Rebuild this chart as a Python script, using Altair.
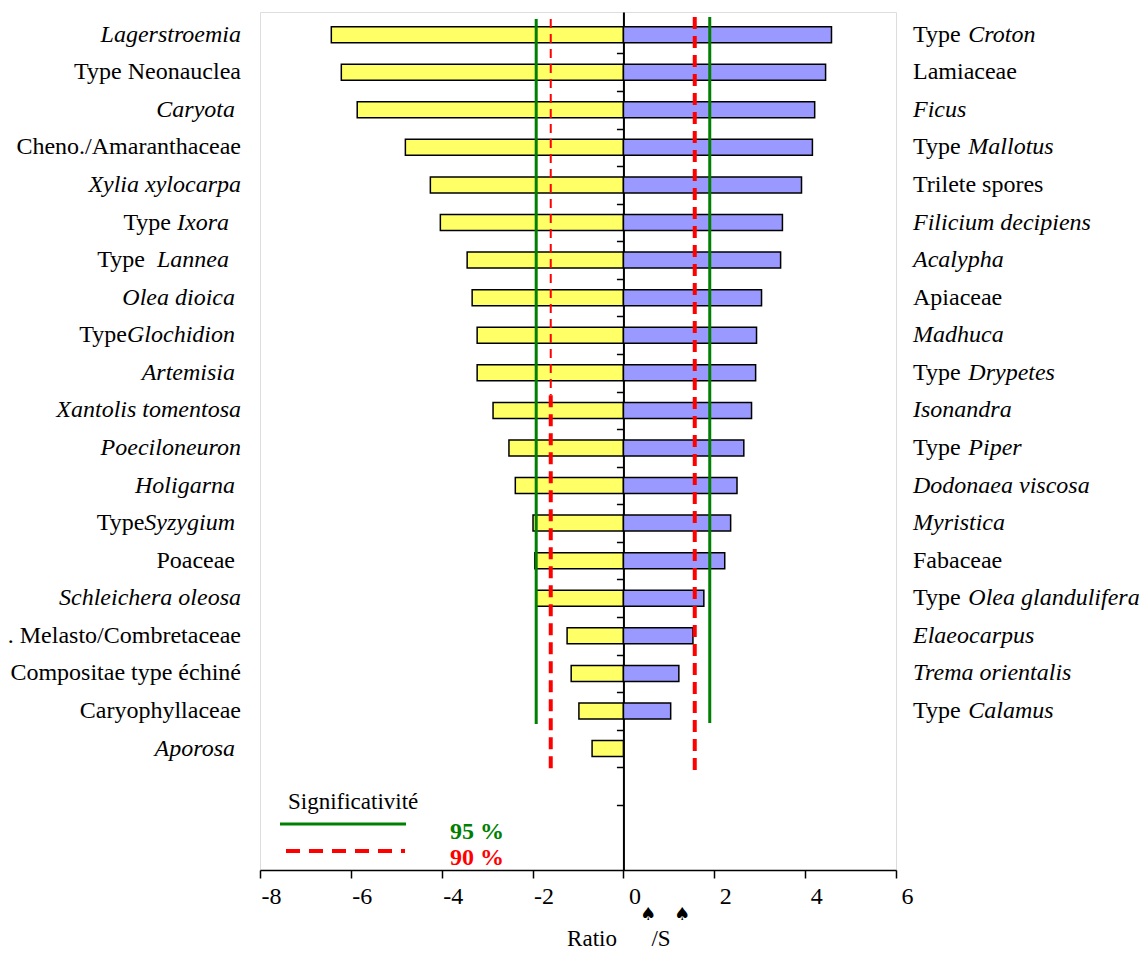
import altair as alt
import pandas as pd

# ---------------- data ----------------
left_roman = ["", "Type Neonauclea", "", "Cheno./Amaranthaceae", "", "Type", "Type", "",
              "Type", "", "", "", "", "Type", "Poaceae", "", ". Melasto/Combretaceae",
              "Compositae type échiné", "Caryophyllaceae", ""]
left_italic = ["Lagerstroemia", "", "Caryota", "", "Xylia xylocarpa", "Ixora", "Lannea",
               "Olea dioica", "Glochidion", "Artemisia", "Xantolis tomentosa", "Poeciloneuron",
               "Holigarna", "Syzygium", "", "Schleichera oleosa", "", "", "", "Aporosa"]
left_gap = [0, 0, 0, 0, 0, 1, 2, 0, 0, 0, 0, 0, 0, 0, 0, 0, 0, 0, 0, 0]
left_trail = [0, 0, 1, 0, 0, 2, 2, 1, 1, 1, 0, 0, 1, 1, 1, 0, 0, 0, 0, 1]
left_values = [-6.43, -6.21, -5.86, -4.80, -4.25, -4.03, -3.44, -3.33, -3.22, -3.22,
               -2.87, -2.52, -2.38, -1.99, -1.95, -1.93, -1.24, -1.15, -0.98, -0.69]

right_roman = ["Type", "Lamiaceae", "", "Type", "Trilete spores", "", "", "Apiaceae", "",
               "Type", "", "Type", "", "", "Fabaceae", "Type", "", "", "Type"]
right_italic = ["Croton", "", "Ficus", "Mallotus", "", "Filicium decipiens", "Acalypha", "",
                "Madhuca", "Drypetes", "Isonandra", "Piper", "Dodonaea viscosa", "Myristica",
                "", "Olea glandulifera", "Elaeocarpus", "Trema orientalis", "Calamus"]
right_gap = [1, 0, 0, 1, 0, 0, 0, 0, 0, 1, 0, 1, 0, 0, 0, 1, 0, 0, 1]
right_values = [4.58, 4.45, 4.21, 4.16, 3.92, 3.50, 3.46, 3.04, 2.93, 2.91,
                2.82, 2.65, 2.50, 2.36, 2.23, 1.77, 1.53, 1.22, 1.04]

sig95_x = [-1.92, 1.90]
sig95_end = [18.35, 18.32]
sig90_x = [-1.60, 1.57]
sig90_end = [19.6, 19.6]
sig90_break = 9.6          # left 90 % line: thin dashes above, thick below

x_ticks = [-8, -6, -4, -2, 0, 2, 4, 6]

# ---------------- styling helpers ----------------
FONT = "Liberation Serif"
FS = 24
Y_TOP, Y_BOT = -0.47, 22.1
WIDTH, HEIGHT = 636, 858

# Times (Liberation Serif) advance widths, 1/1000 em
ROMAN_W = {"T": 611, "y": 500, "p": 500, "e": 444, " ": 250}
ITALIC_W = {"I": 333, "x": 444, "o": 500, "r": 389, "a": 500, "L": 556, "n": 500,
            "e": 444, "G": 722, "l": 278, "c": 444, "h": 500, "i": 278, "d": 500,
            "S": 500, "y": 444, "z": 389, "g": 500, "u": 500, "m": 722}


def width(s, table):
    return sum(table.get(c, 500) for c in s) * FS / 1000.0


SPACE = width(" ", ROMAN_W)
LEFT_EDGE = -19     # px from plot left: right edge of left labels
RIGHT_EDGE = 653    # px from plot left: start of right labels

left_df = pd.DataFrame({
    "idx": list(range(len(left_values))),
    "value": left_values,
    "roman": left_roman,
    "italic": left_italic,
})
ends = [LEFT_EDGE - t * SPACE for t in left_trail]
left_df["italic_x"] = ends
left_df["roman_x"] = [
    e - (width(it, ITALIC_W) + g * SPACE if it else 0)
    for e, it, g in zip(ends, left_italic, left_gap)
]

right_df = pd.DataFrame({
    "idx": list(range(len(right_values))),
    "value": right_values,
    "roman": right_roman,
    "italic": right_italic,
})
right_df["roman_x"] = RIGHT_EDGE
right_df["italic_x"] = [
    RIGHT_EDGE + (width(r, ROMAN_W) + g * SPACE if r else 0)
    for r, g in zip(right_roman, right_gap)
]

yscale = alt.Scale(domain=[Y_TOP, Y_BOT], reverse=True, nice=False, zero=False)
xscale = alt.Scale(domain=[-8, 6], nice=False, zero=False)
zero_px = WIDTH * 8 / 14.0

# bars
left_bars = alt.Chart(left_df).mark_bar(
    size=16, fill="#FFFF66", stroke="black", strokeWidth=1.5
).encode(
    x=alt.X("value:Q", scale=xscale,
            axis=alt.Axis(values=x_ticks, labelExpr="'' + datum.value", tickSize=8,
                          labelPadding=6, labelOffset=11, labelFlush=False,
                          labelFont=FONT, labelFontSize=FS,
                          labelColor="black", domainColor="black", domainWidth=1.5,
                          tickColor="black", tickWidth=1.5, grid=False, title=None)),
    x2=alt.datum(0),
    y=alt.Y("idx:Q", scale=yscale,
            axis=alt.Axis(orient="left", offset=-zero_px,
                          values=[k + 0.5 for k in range(0, 21)],
                          labels=False, ticks=True, tickSize=7, tickColor="black",
                          tickWidth=1.5, domainColor="black", domainWidth=2,
                          grid=False, title=None)),
)

right_bars = alt.Chart(right_df).mark_bar(
    size=16, fill="#9999FF", stroke="black", strokeWidth=1.5
).encode(
    x=alt.X("value:Q", scale=xscale),
    x2=alt.datum(0),
    y=alt.Y("idx:Q", scale=yscale),
)

# significance lines
g_df = pd.DataFrame({"x": sig95_x, "y1": [Y_TOP + 0.05, Y_TOP], "y2": sig95_end})
green = alt.Chart(g_df).mark_rule(color="#008000", strokeWidth=3).encode(
    x=alt.X("x:Q", scale=xscale), y=alt.Y("y1:Q", scale=yscale), y2="y2:Q")

r_thin_df = pd.DataFrame({"x": [sig90_x[0]], "y1": [Y_TOP + 0.05], "y2": [sig90_break]})
r_thick_df = pd.DataFrame({"x": sig90_x, "y1": [sig90_break, Y_TOP], "y2": sig90_end})
red_thin = alt.Chart(r_thin_df).mark_rule(color="#FF0000", strokeWidth=2,
                                          strokeDash=[9, 6]).encode(
    x=alt.X("x:Q", scale=xscale), y=alt.Y("y1:Q", scale=yscale), y2="y2:Q")
red_thick = alt.Chart(r_thick_df).mark_rule(color="#FF0000", strokeWidth=4,
                                            strokeDash=[12, 7]).encode(
    x=alt.X("x:Q", scale=xscale), y=alt.Y("y1:Q", scale=yscale), y2="y2:Q")


# labels
def label_layer(df, field, xfield, align, italic):
    return alt.Chart(df).mark_text(
        align=align, baseline="middle", font=FONT, fontSize=FS,
        fontStyle="italic" if italic else "normal", color="black"
    ).encode(
        x=alt.X(f"{xfield}:Q", scale=None),
        y=alt.Y("idx:Q", scale=yscale),
        text=f"{field}:N",
    )


labels = [
    label_layer(left_df, "roman", "roman_x", "right", False),
    label_layer(left_df, "italic", "italic_x", "right", True),
    label_layer(right_df, "roman", "roman_x", "left", False),
    label_layer(right_df, "italic", "italic_x", "left", True),
]

one = pd.DataFrame({"a": [0]})


def txt(text, x, y, **kw):
    base = dict(font=FONT, fontSize=FS, color="black", baseline="middle", align="left")
    base.update(kw)
    return alt.Chart(one).mark_text(text=text, **base).encode(
        x=alt.value(x), y=alt.value(y))


legend = [
    txt("Significativité", 28, 790, fontSize=23),
    alt.Chart(one).mark_rule(color="#008000", strokeWidth=3).encode(
        x=alt.value(20), x2=alt.value(146), y=alt.value(812)),
    alt.Chart(one).mark_rule(color="#FF0000", strokeWidth=4, strokeDash=[14, 9]).encode(
        x=alt.value(26), x2=alt.value(145), y=alt.value(839)),
    txt("95 %", 190, 820, fontWeight="bold", color="#008000"),
    txt("90 %", 190, 846, fontWeight="bold", color="#FF0000"),
]

title_parts = [
    txt("Ratio", 332, 927, align="center", fontSize=23),
    txt("/S", 401, 927, align="center", fontSize=23),
    txt("♠", 388, 903, align="center", font="DejaVu Sans", fontSize=18),
    txt("♠", 422, 903, align="center", font="DejaVu Sans", fontSize=18),
]

chart = alt.layer(
    left_bars, right_bars, green, red_thin, red_thick, *labels, *legend, *title_parts
).properties(
    width=WIDTH, height=HEIGHT,
    padding={"left": 252, "top": 4, "right": 243, "bottom": 83},
    autosize=alt.AutoSizeParams(type="none"),
).configure_view(
    stroke="#999999", strokeWidth=2
).configure(background="white")

chart.save("out.html", embed_options={"renderer": "svg", "actions": False})
